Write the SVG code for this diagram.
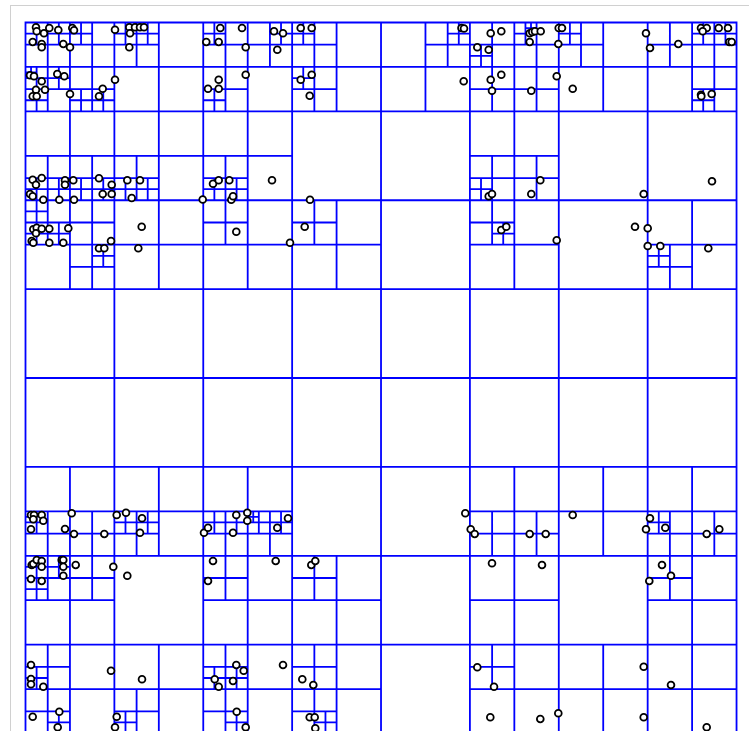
<svg xmlns="http://www.w3.org/2000/svg" width="749" height="731" viewBox="0 0 749 731">
<style>
.grid{fill:none;stroke:#0000ff;stroke-width:1.8;vector-effect:non-scaling-stroke}
.pt{fill:#ffffff;stroke:#000000;stroke-width:1.8}
.frame{fill:none;stroke:#d0d0d0;stroke-width:1}
</style>
<rect x="0" y="0" width="749" height="731" fill="#ffffff"/>
<rect class="frame" x="10.5" y="5.5" width="760" height="760"/>
<g id="quadtree" transform="translate(25.5 22.5) scale(11.11)">
<rect class="grid" x="0" y="0" width="64" height="64"/>
<path class="grid" d="M32 0v64M0 32h64M16 0v64M48 0v64M0 16h64M0 48h64M8 0v64M24 0v64M40 0v64M56 0v64M0 8h64M0 24h64M0 40h64M0 56h64
M0 4h64M4 0v8M12 0v8M20 0v8M28 0v8M36 0v8M44 0v8M52 0v8M60 0v8
M4 8v8M12 8v8M20 8v8M44 8v8M0 12h24M40 12h8
M4 16v8M12 16v8M20 16v8M28 16v8M44 16v8M60 16v8M0 20h32M40 20h8M56 20h8
M4 40v8M12 40v8M20 40v8M44 40v8M52 40v8M60 40v8M0 44h24M40 44h24
M4 48v8M20 48v8M28 48v8M44 48v8M60 48v8M0 52h8M16 52h16M40 52h8M56 52h8
M4 56v8M12 56v8M20 56v8M28 56v8M44 56v8M52 56v8M60 56v8M0 60h32M40 60h24
M2 0v4M0 2h4M6 0v4M4 2h4M10 0v4M8 2h4M18 0v4M16 2h4M22 0v4M20 2h4M26 0v4M24 2h4M38 0v4M36 2h4M42 0v4M40 2h4M46 0v4M44 2h4M50 0v4M48 2h4M58 0v4M56 2h4M62 0v4M60 2h4
M2 4v4M0 6h4M6 4v4M4 6h4M18 4v4M16 6h4M26 4v4M24 6h4M42 4v4M40 6h4M46 4v4M44 6h4M62 4v4M60 6h4
M2 12v4M0 14h4M6 12v4M4 14h4M10 12v4M8 14h4M18 12v4M16 14h4M42 12v4M40 14h4M46 12v4M44 14h4
M2 16v4M0 18h4M6 16v4M4 18h4M18 16v4M16 18h4M26 16v4M24 18h4M42 16v4M40 18h4M6 20v4M4 22h4M58 20v4M56 22h4
M2 44v4M0 46h4M6 44v4M4 46h4M10 44v4M8 46h4M18 44v4M16 46h4M22 44v4M20 46h4M42 44v4M40 46h4M46 44v4M44 46h4M58 44v4M56 46h4M62 44v4M60 46h4
M2 48v4M0 50h4M6 48v4M4 50h4M18 48v4M16 50h4M26 48v4M24 50h4M58 48v4M56 50h4
M2 56v4M0 58h4M18 56v4M16 58h4M26 56v4M24 58h4M42 56v4M40 58h4
M2 60v4M0 62h4M10 60v4M8 62h4M18 60v4M16 62h4M26 60v4M24 62h4
M1 0v2M0 1h2M3 0v2M2 1h2M5 0v2M4 1h2M9 0v2M8 1h2M11 0v2M10 1h2M17 0v2M16 1h2M23 0v2M22 1h2M25 0v2M24 1h2M39 0v2M38 1h2M45 0v2M44 1h2M49 0v2M48 1h2M61 0v2M60 1h2M63 0v2M62 1h2
M41 2v2M40 3h2M1 4v2M0 5h2M3 4v2M2 5h2M25 4v2M24 5h2
M1 6v2M0 7h2M5 6v2M4 7h2M7 6v2M6 7h2M17 6v2M16 7h2M61 6v2M60 7h2
M1 14v2M0 15h2M3 14v2M2 15h2M5 14v2M4 15h2M7 14v2M6 15h2M9 14v2M8 15h2M11 14v2M10 15h2M17 14v2M16 15h2M19 14v2M18 15h2M41 14v2M40 15h2
M1 16v2M0 17h2M1 18v2M0 19h2M3 18v2M2 19h2M43 18v2M42 19h2M7 20v2M6 21h2M57 20v2M56 21h2
M1 44v2M0 45h2M9 44v2M8 45h2M11 44v2M10 45h2M17 44v2M16 45h2M19 44v2M18 45h2M21 44v2M20 45h2M23 44v2M22 45h2M57 44v2M56 45h2
M1 48v2M0 49h2M3 48v2M2 49h2M1 50v2M0 51h2
M1 58v2M0 59h2M17 58v2M16 59h2M19 58v2M18 59h2
M3 62v2M2 63h2M9 62v2M8 63h2M19 62v2M18 63h2M27 62v2M26 63h2
M0.5 4v1M0 4.5h1M0.5 44v1M0 44.5h1M20.5 44v1M20 44.5h1M45.5 0v1M45 0.5h1"/>
</g>
<g id="points">
<circle class="pt" cx="36" cy="27.3" r="3.4"/>
<circle class="pt" cx="36.7" cy="31.3" r="3.4"/>
<circle class="pt" cx="44" cy="33.3" r="3.4"/>
<circle class="pt" cx="49.3" cy="28" r="3.4"/>
<circle class="pt" cx="58.3" cy="30" r="3.4"/>
<circle class="pt" cx="72.3" cy="28" r="3.4"/>
<circle class="pt" cx="74" cy="30.3" r="3.4"/>
<circle class="pt" cx="115" cy="29.7" r="3.4"/>
<circle class="pt" cx="129.3" cy="27.3" r="3.4"/>
<circle class="pt" cx="130" cy="33.3" r="3.4"/>
<circle class="pt" cx="135" cy="27.3" r="3.4"/>
<circle class="pt" cx="140" cy="27.3" r="3.4"/>
<circle class="pt" cx="144" cy="27.3" r="3.4"/>
<circle class="pt" cx="32.7" cy="42" r="3.4"/>
<circle class="pt" cx="41.7" cy="44" r="3.4"/>
<circle class="pt" cx="41.7" cy="47.3" r="3.4"/>
<circle class="pt" cx="63.3" cy="44" r="3.4"/>
<circle class="pt" cx="70" cy="47.3" r="3.4"/>
<circle class="pt" cx="129.3" cy="47.3" r="3.4"/>
<circle class="pt" cx="30" cy="75.3" r="3.4"/>
<circle class="pt" cx="34" cy="76.3" r="3.4"/>
<circle class="pt" cx="41.7" cy="81.3" r="3.4"/>
<circle class="pt" cx="57.3" cy="74" r="3.4"/>
<circle class="pt" cx="64.3" cy="76.3" r="3.4"/>
<circle class="pt" cx="36" cy="89.7" r="3.4"/>
<circle class="pt" cx="45" cy="89.7" r="3.4"/>
<circle class="pt" cx="32.7" cy="96.3" r="3.4"/>
<circle class="pt" cx="36.7" cy="96.3" r="3.4"/>
<circle class="pt" cx="70" cy="94" r="3.4"/>
<circle class="pt" cx="99" cy="96.3" r="3.4"/>
<circle class="pt" cx="102.7" cy="88.7" r="3.4"/>
<circle class="pt" cx="115" cy="79.7" r="3.4"/>
<circle class="pt" cx="32.7" cy="179.7" r="3.4"/>
<circle class="pt" cx="41.7" cy="178" r="3.4"/>
<circle class="pt" cx="36" cy="184.7" r="3.4"/>
<circle class="pt" cx="65" cy="180.3" r="3.4"/>
<circle class="pt" cx="73.3" cy="180.3" r="3.4"/>
<circle class="pt" cx="65" cy="184.7" r="3.4"/>
<circle class="pt" cx="99" cy="178.3" r="3.4"/>
<circle class="pt" cx="111.7" cy="184.7" r="3.4"/>
<circle class="pt" cx="127.3" cy="180.3" r="3.4"/>
<circle class="pt" cx="140" cy="180.3" r="3.4"/>
<circle class="pt" cx="30" cy="194" r="3.4"/>
<circle class="pt" cx="32.7" cy="196.3" r="3.4"/>
<circle class="pt" cx="43.3" cy="199.7" r="3.4"/>
<circle class="pt" cx="59.3" cy="199.7" r="3.4"/>
<circle class="pt" cx="74" cy="199.7" r="3.4"/>
<circle class="pt" cx="102.7" cy="194" r="3.4"/>
<circle class="pt" cx="111.7" cy="194" r="3.4"/>
<circle class="pt" cx="131.7" cy="198" r="3.4"/>
<circle class="pt" cx="202.7" cy="199.5" r="3.4"/>
<circle class="pt" cx="33.3" cy="229.3" r="3.4"/>
<circle class="pt" cx="36.7" cy="227.7" r="3.4"/>
<circle class="pt" cx="41.7" cy="228.7" r="3.4"/>
<circle class="pt" cx="49.3" cy="228.7" r="3.4"/>
<circle class="pt" cx="31.7" cy="241" r="3.4"/>
<circle class="pt" cx="33.3" cy="242.7" r="3.4"/>
<circle class="pt" cx="36" cy="233.3" r="3.4"/>
<circle class="pt" cx="68.3" cy="228.3" r="3.4"/>
<circle class="pt" cx="63.3" cy="242.7" r="3.4"/>
<circle class="pt" cx="49.3" cy="242.7" r="3.4"/>
<circle class="pt" cx="111" cy="241" r="3.4"/>
<circle class="pt" cx="99" cy="248.3" r="3.4"/>
<circle class="pt" cx="104.3" cy="248.3" r="3.4"/>
<circle class="pt" cx="141.7" cy="226.7" r="3.4"/>
<circle class="pt" cx="138.3" cy="248.3" r="3.4"/>
<circle class="pt" cx="220.3" cy="28" r="3.4"/>
<circle class="pt" cx="242" cy="28" r="3.4"/>
<circle class="pt" cx="206.3" cy="42" r="3.4"/>
<circle class="pt" cx="218.7" cy="42" r="3.4"/>
<circle class="pt" cx="245.7" cy="47.3" r="3.4"/>
<circle class="pt" cx="274" cy="31.3" r="3.4"/>
<circle class="pt" cx="283" cy="33.3" r="3.4"/>
<circle class="pt" cx="277.3" cy="49.7" r="3.4"/>
<circle class="pt" cx="300.7" cy="28" r="3.4"/>
<circle class="pt" cx="311.7" cy="28" r="3.4"/>
<circle class="pt" cx="218.7" cy="79.7" r="3.4"/>
<circle class="pt" cx="208" cy="88.7" r="3.4"/>
<circle class="pt" cx="218.7" cy="88.7" r="3.4"/>
<circle class="pt" cx="245.7" cy="74.7" r="3.4"/>
<circle class="pt" cx="300.7" cy="79.7" r="3.4"/>
<circle class="pt" cx="311.7" cy="74.7" r="3.4"/>
<circle class="pt" cx="309.7" cy="95.7" r="3.4"/>
<circle class="pt" cx="213" cy="183.7" r="3.4"/>
<circle class="pt" cx="218.7" cy="180.3" r="3.4"/>
<circle class="pt" cx="229.3" cy="180.3" r="3.4"/>
<circle class="pt" cx="272" cy="180.3" r="3.4"/>
<circle class="pt" cx="231.3" cy="199.7" r="3.4"/>
<circle class="pt" cx="233" cy="196.3" r="3.4"/>
<circle class="pt" cx="310" cy="199.7" r="3.4"/>
<circle class="pt" cx="236.3" cy="231.7" r="3.4"/>
<circle class="pt" cx="304.7" cy="226.7" r="3.4"/>
<circle class="pt" cx="290" cy="242.7" r="3.4"/>
<circle class="pt" cx="461.5" cy="28" r="3.4"/>
<circle class="pt" cx="464" cy="28.5" r="3.4"/>
<circle class="pt" cx="490.7" cy="33.3" r="3.4"/>
<circle class="pt" cx="501.3" cy="31.3" r="3.4"/>
<circle class="pt" cx="477.3" cy="47.3" r="3.4"/>
<circle class="pt" cx="488.7" cy="49.7" r="3.4"/>
<circle class="pt" cx="529.7" cy="33.3" r="3.4"/>
<circle class="pt" cx="532.3" cy="32" r="3.4"/>
<circle class="pt" cx="535" cy="31.3" r="3.4"/>
<circle class="pt" cx="540.7" cy="31.3" r="3.4"/>
<circle class="pt" cx="529.7" cy="42" r="3.4"/>
<circle class="pt" cx="558.7" cy="28" r="3.4"/>
<circle class="pt" cx="562" cy="28" r="3.4"/>
<circle class="pt" cx="558.3" cy="44" r="3.4"/>
<circle class="pt" cx="463.7" cy="81.3" r="3.4"/>
<circle class="pt" cx="490.7" cy="79.7" r="3.4"/>
<circle class="pt" cx="501.3" cy="74.7" r="3.4"/>
<circle class="pt" cx="492" cy="90.7" r="3.4"/>
<circle class="pt" cx="531.3" cy="90.7" r="3.4"/>
<circle class="pt" cx="556.7" cy="76.3" r="3.4"/>
<circle class="pt" cx="540.3" cy="180.3" r="3.4"/>
<circle class="pt" cx="531.3" cy="194" r="3.4"/>
<circle class="pt" cx="488.7" cy="196.3" r="3.4"/>
<circle class="pt" cx="492" cy="194" r="3.4"/>
<circle class="pt" cx="646" cy="33.3" r="3.4"/>
<circle class="pt" cx="650" cy="48" r="3.4"/>
<circle class="pt" cx="678.3" cy="44" r="3.4"/>
<circle class="pt" cx="701" cy="28" r="3.4"/>
<circle class="pt" cx="706.7" cy="28" r="3.4"/>
<circle class="pt" cx="702.7" cy="31.3" r="3.4"/>
<circle class="pt" cx="718.7" cy="28" r="3.4"/>
<circle class="pt" cx="728" cy="28" r="3.4"/>
<circle class="pt" cx="729.3" cy="42" r="3.4"/>
<circle class="pt" cx="731.7" cy="42" r="3.4"/>
<circle class="pt" cx="572.7" cy="88.7" r="3.4"/>
<circle class="pt" cx="701" cy="94.7" r="3.4"/>
<circle class="pt" cx="701.3" cy="96.3" r="3.4"/>
<circle class="pt" cx="711.7" cy="94" r="3.4"/>
<circle class="pt" cx="712" cy="181.3" r="3.4"/>
<circle class="pt" cx="643.7" cy="194" r="3.4"/>
<circle class="pt" cx="501.3" cy="230" r="3.4"/>
<circle class="pt" cx="506.3" cy="226.7" r="3.4"/>
<circle class="pt" cx="556.7" cy="240.3" r="3.4"/>
<circle class="pt" cx="635" cy="226.7" r="3.4"/>
<circle class="pt" cx="647.7" cy="228.3" r="3.4"/>
<circle class="pt" cx="647.7" cy="246" r="3.4"/>
<circle class="pt" cx="660.3" cy="246" r="3.4"/>
<circle class="pt" cx="708.3" cy="248.3" r="3.4"/>
<circle class="pt" cx="31" cy="515" r="3.4"/>
<circle class="pt" cx="34" cy="515" r="3.4"/>
<circle class="pt" cx="33.3" cy="519.3" r="3.4"/>
<circle class="pt" cx="41.7" cy="515" r="3.4"/>
<circle class="pt" cx="43.3" cy="520.7" r="3.4"/>
<circle class="pt" cx="31" cy="529.3" r="3.4"/>
<circle class="pt" cx="65" cy="529" r="3.4"/>
<circle class="pt" cx="71.7" cy="513.3" r="3.4"/>
<circle class="pt" cx="74" cy="534" r="3.4"/>
<circle class="pt" cx="104.3" cy="534" r="3.4"/>
<circle class="pt" cx="116.7" cy="515" r="3.4"/>
<circle class="pt" cx="126" cy="512.7" r="3.4"/>
<circle class="pt" cx="142" cy="518.3" r="3.4"/>
<circle class="pt" cx="140" cy="532.7" r="3.4"/>
<circle class="pt" cx="204" cy="532.7" r="3.4"/>
<circle class="pt" cx="31.7" cy="565" r="3.4"/>
<circle class="pt" cx="33.3" cy="564" r="3.4"/>
<circle class="pt" cx="36.7" cy="560" r="3.4"/>
<circle class="pt" cx="41.7" cy="561" r="3.4"/>
<circle class="pt" cx="41.7" cy="566.7" r="3.4"/>
<circle class="pt" cx="31" cy="579" r="3.4"/>
<circle class="pt" cx="41.7" cy="581" r="3.4"/>
<circle class="pt" cx="61.7" cy="560" r="3.4"/>
<circle class="pt" cx="63.3" cy="560" r="3.4"/>
<circle class="pt" cx="63.3" cy="566.7" r="3.4"/>
<circle class="pt" cx="63.3" cy="575.7" r="3.4"/>
<circle class="pt" cx="75.7" cy="565" r="3.4"/>
<circle class="pt" cx="113.3" cy="566.7" r="3.4"/>
<circle class="pt" cx="127.3" cy="575.7" r="3.4"/>
<circle class="pt" cx="31" cy="665" r="3.4"/>
<circle class="pt" cx="31" cy="679" r="3.4"/>
<circle class="pt" cx="31" cy="684.3" r="3.4"/>
<circle class="pt" cx="43.3" cy="686.7" r="3.4"/>
<circle class="pt" cx="111" cy="670.7" r="3.4"/>
<circle class="pt" cx="142" cy="679.3" r="3.4"/>
<circle class="pt" cx="32.7" cy="716.7" r="3.4"/>
<circle class="pt" cx="59.3" cy="711.7" r="3.4"/>
<circle class="pt" cx="57.7" cy="727.3" r="3.4"/>
<circle class="pt" cx="116.7" cy="716.7" r="3.4"/>
<circle class="pt" cx="115" cy="727.3" r="3.4"/>
<circle class="pt" cx="208" cy="527.7" r="3.4"/>
<circle class="pt" cx="236.3" cy="515" r="3.4"/>
<circle class="pt" cx="233" cy="532.7" r="3.4"/>
<circle class="pt" cx="247.3" cy="512.7" r="3.4"/>
<circle class="pt" cx="247.3" cy="520.7" r="3.4"/>
<circle class="pt" cx="277.3" cy="527.7" r="3.4"/>
<circle class="pt" cx="288" cy="518.3" r="3.4"/>
<circle class="pt" cx="213" cy="561" r="3.4"/>
<circle class="pt" cx="208" cy="581" r="3.4"/>
<circle class="pt" cx="275.7" cy="561" r="3.4"/>
<circle class="pt" cx="311.3" cy="565" r="3.4"/>
<circle class="pt" cx="315.3" cy="561" r="3.4"/>
<circle class="pt" cx="236.3" cy="665" r="3.4"/>
<circle class="pt" cx="243.7" cy="670.7" r="3.4"/>
<circle class="pt" cx="214.7" cy="679.3" r="3.4"/>
<circle class="pt" cx="218.7" cy="686.7" r="3.4"/>
<circle class="pt" cx="233" cy="681" r="3.4"/>
<circle class="pt" cx="283" cy="665" r="3.4"/>
<circle class="pt" cx="302.3" cy="679.3" r="3.4"/>
<circle class="pt" cx="313.3" cy="685" r="3.4"/>
<circle class="pt" cx="236.7" cy="711.7" r="3.4"/>
<circle class="pt" cx="245.7" cy="727.3" r="3.4"/>
<circle class="pt" cx="309.7" cy="717.3" r="3.4"/>
<circle class="pt" cx="314.7" cy="717.3" r="3.4"/>
<circle class="pt" cx="315.3" cy="728.3" r="3.4"/>
<circle class="pt" cx="465.3" cy="513.3" r="3.4"/>
<circle class="pt" cx="470.7" cy="529.3" r="3.4"/>
<circle class="pt" cx="474.7" cy="534" r="3.4"/>
<circle class="pt" cx="529.7" cy="534" r="3.4"/>
<circle class="pt" cx="545.7" cy="534" r="3.4"/>
<circle class="pt" cx="492" cy="563.3" r="3.4"/>
<circle class="pt" cx="542" cy="565" r="3.4"/>
<circle class="pt" cx="477.3" cy="667.3" r="3.4"/>
<circle class="pt" cx="494" cy="686.7" r="3.4"/>
<circle class="pt" cx="490.3" cy="717.3" r="3.4"/>
<circle class="pt" cx="540.3" cy="719" r="3.4"/>
<circle class="pt" cx="558.3" cy="713.3" r="3.4"/>
<circle class="pt" cx="572.7" cy="515" r="3.4"/>
<circle class="pt" cx="650" cy="518.3" r="3.4"/>
<circle class="pt" cx="646" cy="529.3" r="3.4"/>
<circle class="pt" cx="665.3" cy="527.7" r="3.4"/>
<circle class="pt" cx="706.7" cy="534" r="3.4"/>
<circle class="pt" cx="719.3" cy="529.3" r="3.4"/>
<circle class="pt" cx="662" cy="565" r="3.4"/>
<circle class="pt" cx="671" cy="575.7" r="3.4"/>
<circle class="pt" cx="649.3" cy="581" r="3.4"/>
<circle class="pt" cx="643.7" cy="666.7" r="3.4"/>
<circle class="pt" cx="671" cy="685" r="3.4"/>
<circle class="pt" cx="643.7" cy="717.3" r="3.4"/>
<circle class="pt" cx="706.7" cy="727.3" r="3.4"/>
</g>
</svg>
